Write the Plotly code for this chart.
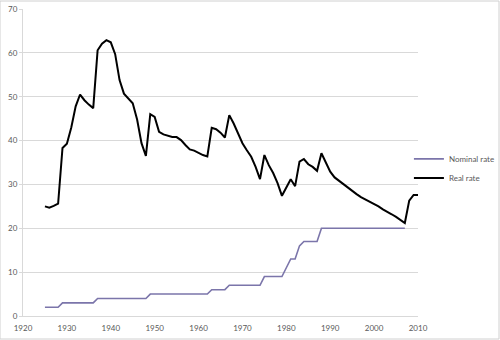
import plotly.graph_objects as go

years_real = list(range(1925, 2011))
real_rate = [
    25.0, 24.7, 25.1, 25.6, 38.3, 39.3, 43.0, 47.8, 50.5, 49.2,   # 1925-1934
    48.2, 47.4, 60.6, 62.1, 62.9, 62.4, 59.7, 53.8, 50.7, 49.6,   # 1935-1944
    48.5, 44.8, 39.4, 36.5, 46.0, 45.4, 42.0, 41.4, 41.1, 40.8,   # 1945-1954
    40.8, 40.1, 39.0, 38.0, 37.7, 37.1, 36.7, 36.4, 42.9, 42.6,   # 1955-1964
    41.8, 40.7, 45.8, 43.9, 41.6, 39.4, 37.8, 36.3, 34.0, 31.2,   # 1965-1974
    36.7, 34.4, 32.6, 30.3, 27.4, 29.3, 31.2, 29.6, 35.2, 35.8,   # 1975-1984
    34.6, 34.0, 33.1, 37.1, 34.8, 32.9, 31.6, 30.8, 30.0, 29.2,   # 1985-1994
    28.5, 27.8, 27.1, 26.6, 26.1, 25.6, 25.0, 24.3, 23.8, 23.2,   # 1995-2004
    22.6, 22.0, 21.2, 26.3, 27.6, 27.6,                           # 2005-2010
]

years_nominal = list(range(1925, 2008))
nominal_rate = (
    [2] * 4 +        # 1925-1928
    [3] * 8 +        # 1929-1936
    [4] * 12 +       # 1937-1948
    [5] * 14 +       # 1949-1962
    [6] * 4 +        # 1963-1966
    [7] * 8 +        # 1967-1974
    [9] * 5 +        # 1975-1979
    [11, 13, 13, 16] +  # 1980-1983
    [17] * 4 +       # 1984-1987
    [20] * 20        # 1988-2007
)

x_ticks = list(range(1920, 2011, 10))
y_ticks = list(range(0, 71, 10))

fig = go.Figure()
fig.add_trace(go.Scatter(x=years_nominal, y=nominal_rate, mode="lines",
                         name="Nominal rate",
                         line=dict(color="#7b75aa", width=1.6)))
fig.add_trace(go.Scatter(x=years_real, y=real_rate, mode="lines",
                         name="Real rate",
                         line=dict(color="#000000", width=2)))

fig.update_layout(
    width=500, height=340,
    margin=dict(l=23, r=82, t=9, b=24, autoexpand=False),
    paper_bgcolor="white", plot_bgcolor="white",
    font=dict(family="Lato, Open Sans, sans-serif", size=8, color="#595959"),
    showlegend=True,
    legend=dict(x=0.977, y=0.559, xanchor="left", yanchor="top",
                font=dict(size=8, color="#595959"),
                itemwidth=30, tracegroupgap=0,
                bgcolor="rgba(0,0,0,0)"),
    xaxis=dict(range=[1920, 2010], tickvals=x_ticks,
               showgrid=False, zeroline=False,
               showline=True, linecolor="#d9d9d9", linewidth=1,
               ticks="", ticklabelstandoff=4,
               tickfont=dict(size=8, color="#595959")),
    yaxis=dict(range=[0, 70], tickvals=y_ticks,
               showgrid=True, gridcolor="#d9d9d9", gridwidth=1,
               zeroline=False,
               showline=True, linecolor="#d9d9d9", linewidth=1,
               ticks="outside", ticklen=3, tickcolor="#d9d9d9",
               tickfont=dict(size=8, color="#595959")),
    shapes=[dict(type="rect", xref="paper", yref="paper",
                 x0=-23/395, x1=1 + 81/395, y0=-23/307, y1=1 + 8/307,
                 line=dict(color="#d0d0d0", width=1), layer="below")],
)

fig.write_html("out.html")
